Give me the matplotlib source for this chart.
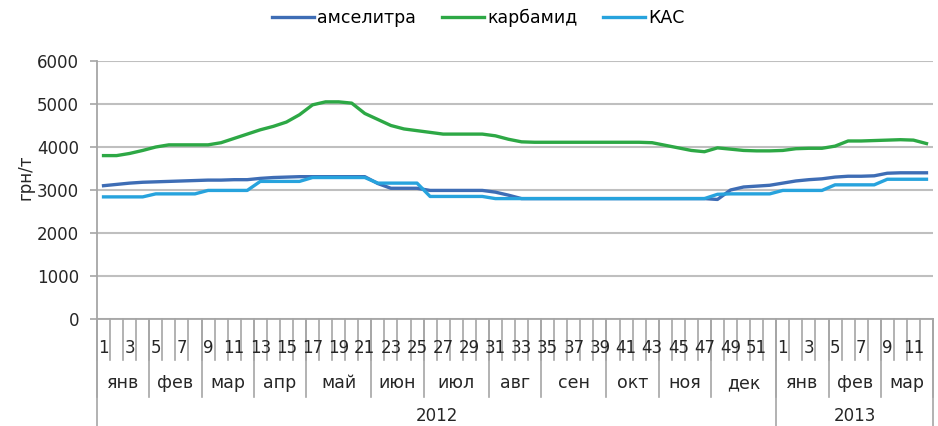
import numpy as np
import matplotlib
matplotlib.use("Agg")
import matplotlib.pyplot as plt
from matplotlib.transforms import blended_transform_factory

# weekly prices, 2012 weeks 1-52 then 2013 weeks 1-12
amselitra = [3100, 3130, 3160, 3180, 3190, 3200, 3210, 3220, 3230, 3230,
             3240, 3240, 3270, 3290, 3300, 3310, 3310, 3310, 3310, 3310,
             3310, 3150, 3040, 3040, 3040, 2990, 2990, 2990, 2990, 2990,
             2950, 2880, 2800, 2800, 2800, 2800, 2800, 2800, 2800, 2800,
             2800, 2800, 2800, 2800, 2800, 2800, 2800, 2780, 3000, 3070,
             3090, 3110, 3160, 3210, 3240, 3260, 3300, 3320, 3320, 3330,
             3390, 3400, 3400, 3400]
karbamid = [3800, 3800, 3850, 3920, 4000, 4050, 4050, 4050, 4050, 4100,
            4200, 4300, 4400, 4480, 4580, 4750, 4980, 5050, 5050, 5020,
            4780, 4640, 4500, 4420, 4380, 4340, 4300, 4300, 4300, 4300,
            4260, 4180, 4120, 4110, 4110, 4110, 4110, 4110, 4110, 4110,
            4110, 4110, 4100, 4040, 3980, 3920, 3890, 3980, 3950, 3920,
            3910, 3910, 3920, 3960, 3970, 3970, 4020, 4140, 4140, 4150,
            4160, 4170, 4160, 4080]
kas = [2840, 2840, 2840, 2840, 2910, 2910, 2910, 2910, 2990, 2990,
       2990, 2990, 3200, 3200, 3200, 3200, 3290, 3290, 3290, 3290,
       3290, 3160, 3160, 3160, 3160, 2850, 2850, 2850, 2850, 2850,
       2800, 2800, 2800, 2800, 2800, 2800, 2800, 2800, 2800, 2800,
       2800, 2800, 2800, 2800, 2800, 2800, 2800, 2900, 2910, 2910,
       2910, 2910, 2990, 2990, 2990, 2990, 3120, 3120, 3120, 3120,
       3250, 3250, 3250, 3250]

week_labels = list(range(1, 53)) + list(range(1, 13))
months = ["янв", "фев", "мар", "апр", "май", "июн", "июл", "авг", "сен",
          "окт", "ноя", "дек", "янв", "фев", "мар"]
month_weeks = [4, 4, 4, 4, 5, 4, 5, 4, 5, 4, 4, 5, 4, 4, 4]
years = ["2012", "2013"]
year_weeks = [52, 12]

plt.rcParams['font.family'] = ['DejaVu Sans']
fig = plt.figure(figsize=(9.38, 4.26), dpi=100)
ax = fig.add_axes([97 / 938, 1 - 319 / 426, 836 / 938, 258 / 426])

x = np.arange(1, len(amselitra) + 1)
ax.plot(x, amselitra, color="#3E6DB5", lw=2.4, label="амселитра")
ax.plot(x, karbamid, color="#2DA845", lw=2.4, label="карбамид")
ax.plot(x, kas, color="#27A3DD", lw=2.4, label="КАС")

ax.set_xlim(0.5, len(x) + 0.5)
ax.set_ylim(0, 6000)
ax.set_yticks(range(0, 6001, 1000))
ax.yaxis.grid(True, color="#BFBFBF", lw=1.5)
ax.set_axisbelow(True)
for s in ["top", "right"]:
    ax.spines[s].set_visible(False)
ax.spines["left"].set_color("#A6A6A6")
ax.spines["bottom"].set_color("#A6A6A6")
ax.spines["left"].set_linewidth(1.3)
ax.spines["bottom"].set_linewidth(1.3)
ax.tick_params(axis="y", colors="#A6A6A6", length=5, width=1.2, labelsize=12,
               labelcolor="#262626", pad=8)
ax.set_xticks([])
ax.set_ylabel("грн/т", fontsize=12, color="#262626")
ax.yaxis.set_label_coords(-0.075, 0.55)

# multi-level category axis
tr = blended_transform_factory(ax.transData, fig.transFigure)
y0 = 1 - 319 / 426
gray = "#A6A6A6"
for b in np.arange(0.5, len(x) + 1):
    ax.plot([b, b], [y0, 1 - 360 / 426], color=gray, lw=1.2, transform=tr, clip_on=False)
for i, w in enumerate(week_labels):
    if w % 2 == 1:
        ax.text(i + 1, 1 - 348 / 426, str(w), transform=tr, ha="center", va="center",
                fontsize=12, color="#262626")

edges = np.concatenate([[0], np.cumsum(month_weeks)]) + 0.5
for e in edges:
    ax.plot([e, e], [y0, 1 - 397 / 426], color=gray, lw=1.2, transform=tr, clip_on=False)
for m, a, b in zip(months, edges[:-1], edges[1:]):
    ax.text((a + b) / 2, 1 - 383 / 426, m, transform=tr, ha="center", va="center",
            fontsize=12.5, color="#262626")

yedges = np.concatenate([[0], np.cumsum(year_weeks)]) + 0.5
for e in yedges:
    ax.plot([e, e], [y0, 0], color=gray, lw=1.2, transform=tr, clip_on=False)
for yl, a, b in zip(years, yedges[:-1], yedges[1:]):
    ax.text((a + b) / 2, 1 - 416 / 426, yl, transform=tr, ha="center", va="center",
            fontsize=12, color="#262626")

fig.legend(loc="center", bbox_to_anchor=(0.51, 1 - 18 / 426), ncol=3, frameon=False,
           fontsize=12.5, handlelength=2.4, handletextpad=0.2, columnspacing=1.5)

fig.savefig("out.png", dpi=100, facecolor="white")
